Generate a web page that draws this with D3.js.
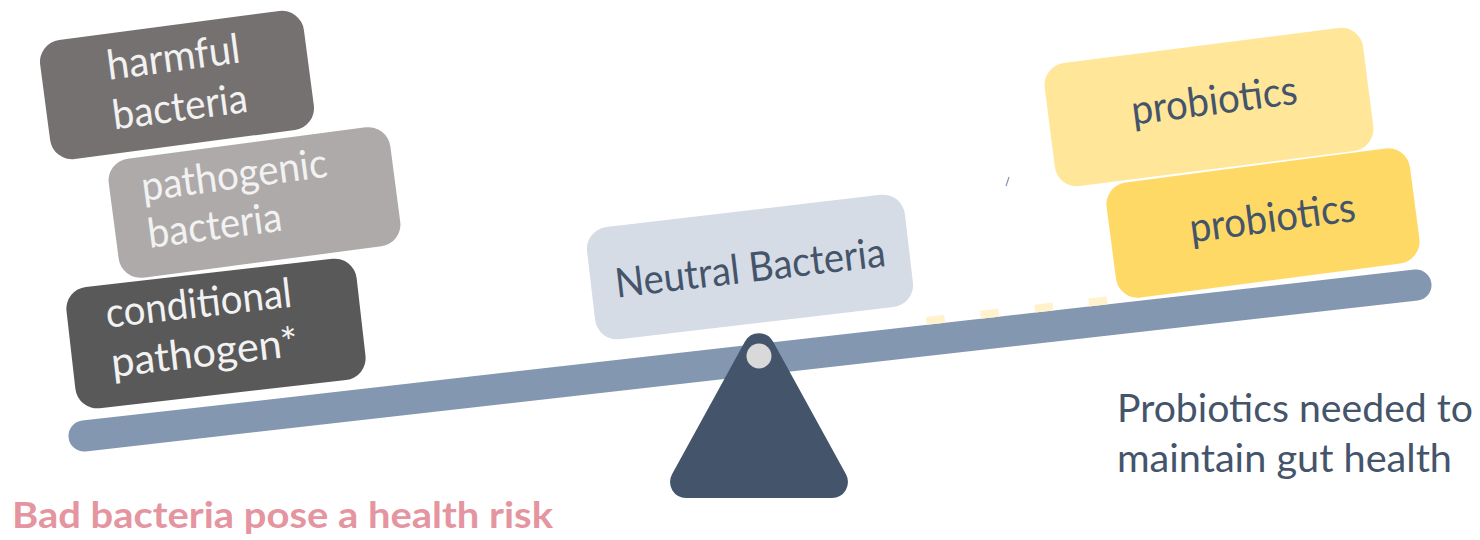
<!DOCTYPE html>
<html>
<head>
<meta charset="utf-8">
<script src="https://cdnjs.cloudflare.com/ajax/libs/d3/7.8.5/d3.min.js"></script>
<style>
  body { margin: 0; background: #fff; }
  svg { display: block; }
</style>
</head>
<body>
<svg id="balance"></svg>
<script>
// what sits on the scale, top to bottom, left pile then middle then right pile
const blockLines = [
  ['harmful', 'bacteria'],
  ['pathogenic', 'bacteria'],
  ['conditional', 'pathogen*'],
  ['Neutral Bacteria'],
  ['probiotics'],
  ['probiotics']
];
const leftCaption = 'Bad bacteria pose a health risk';
const rightCaption = ['Probiotics needed to', 'maintain gut health'];

(function () {
  const width = 1480;
  const height = 540;
  const font = 'Lato, Calibri, "Open Sans", sans-serif';

  const fills = ['#767171', '#AEAAAA', '#595959', '#D6DCE5', '#FFE699', '#FFD966'];
  const inks = ['#F2F2F2', '#F2F2F2', '#F2F2F2', '#44546A', '#44546A', '#44546A'];

  // box placement: centre, size, tilt, first baseline, text anchor + offset, line widths
  const layout = [
    { cx: 177, cy: 85, w: 266, h: 120, a: -7.5, x: 0, y: -14, lead: 50, anchor: 'middle', len: [134, 136] },
    { cx: 254.5, cy: 202.5, w: 284, h: 120, a: -7.5, x: -110, y: -16, lead: 47.5, anchor: 'start', len: [187, 135] },
    { cx: 216, cy: 333.5, w: 292, h: 122, a: -6.5, x: -107.5, y: -18, lead: 49.5, anchor: 'start', len: [187, 188] },
    { cx: 750, cy: 267, w: 320, h: 113, a: -6.7, x: 0, y: 15, lead: 0, anchor: 'middle', len: [272] },
    { cx: 1209, cy: 107, w: 321, h: 124, a: -7.3, x: 6, y: 8, lead: 0, anchor: 'middle', len: [167] },
    { cx: 1263, cy: 223, w: 306, h: 116, a: -7.5, x: 10, y: 10, lead: 0, anchor: 'middle', len: [167] }
  ];

  const svg = d3.select('#balance')
    .attr('width', width)
    .attr('height', height)
    .attr('viewBox', `0 0 ${width} ${height}`);

  // the plank: 0..1 along its length mapped to page x / y
  const beamX = d3.scaleLinear().domain([0, 1]).range([84, 1416]);
  const beamY = d3.scaleLinear().domain([0, 1]).range([436, 285]);
  const len = Math.hypot(beamX(1) - beamX(0), beamY(1) - beamY(0));
  const ux = (beamX(1) - beamX(0)) / len, uy = (beamY(1) - beamY(0)) / len;
  const up = [uy, -ux];

  svg.append('line')
    .attr('x1', beamX(0)).attr('y1', beamY(0))
    .attr('x2', beamX(1)).attr('y2', beamY(1))
    .attr('stroke', '#8497B0')
    .attr('stroke-width', 31)
    .attr('stroke-linecap', 'round');

  // faint dashed leftover just above the right half of the plank
  const off = 19.5;
  svg.append('line')
    .attr('x1', beamX(0.634) + up[0] * off).attr('y1', beamY(0.634) + up[1] * off)
    .attr('x2', beamX(0.772) + up[0] * off).attr('y2', beamY(0.772) + up[1] * off)
    .attr('stroke', '#FFF2CC')
    .attr('stroke-width', 8)
    .attr('stroke-dasharray', '18.5 36');

  // tiny stray tick
  svg.append('line')
    .attr('x1', 1006).attr('y1', 186)
    .attr('x2', 1009).attr('y2', 177)
    .attr('stroke', '#8497B0')
    .attr('stroke-width', 1.2);

  const blocks = svg.selectAll('.block')
    .data(blockLines)
    .join('g')
    .attr('class', 'block')
    .attr('transform', (d, i) => `translate(${layout[i].cx},${layout[i].cy}) rotate(${layout[i].a})`);

  blocks.append('rect')
    .attr('x', (d, i) => -layout[i].w / 2)
    .attr('y', (d, i) => -layout[i].h / 2)
    .attr('width', (d, i) => layout[i].w)
    .attr('height', (d, i) => layout[i].h)
    .attr('rx', 22)
    .attr('fill', (d, i) => fills[i]);

  blocks.each(function (lines, i) {
    const l = layout[i];
    d3.select(this).selectAll('text')
      .data(lines)
      .join('text')
      .attr('x', l.x)
      .attr('y', (d, j) => l.y + j * l.lead)
      .attr('text-anchor', l.anchor)
      .attr('textLength', (d, j) => l.len[j])
      .attr('lengthAdjust', 'spacingAndGlyphs')
      .attr('font-family', font)
      .attr('font-size', 41)
      .attr('fill', inks[i])
      .text(d => d);
  });

  // fulcrum with rounded corners
  const apex = [759, 316], bl = [659, 498], br = [859, 498];
  const tri = d3.path();
  tri.moveTo((bl[0] + br[0]) / 2, bl[1]);
  tri.arcTo(br[0], br[1], apex[0], apex[1], 16);
  tri.arcTo(apex[0], apex[1], bl[0], bl[1], 16);
  tri.arcTo(bl[0], bl[1], br[0], br[1], 16);
  tri.closePath();
  svg.append('path')
    .attr('d', tri.toString())
    .attr('fill', '#44546A');

  svg.append('circle')
    .attr('cx', 759)
    .attr('cy', 356)
    .attr('r', 12.5)
    .attr('fill', '#D9D9D9');

  svg.append('text')
    .attr('x', 12)
    .attr('y', 528)
    .attr('textLength', 541)
    .attr('lengthAdjust', 'spacingAndGlyphs')
    .attr('font-family', font)
    .attr('font-weight', 'bold')
    .attr('font-size', 36)
    .attr('fill', '#E5959F')
    .text(leftCaption);

  svg.selectAll('.note')
    .data(rightCaption)
    .join('text')
    .attr('class', 'note')
    .attr('x', 1117)
    .attr('y', (d, i) => 422 + i * 50)
    .attr('textLength', (d, i) => [356, 335][i])
    .attr('lengthAdjust', 'spacingAndGlyphs')
    .attr('font-family', font)
    .attr('font-size', 38)
    .attr('fill', '#44546A')
    .text(d => d);
})();
</script>
</body>
</html>
